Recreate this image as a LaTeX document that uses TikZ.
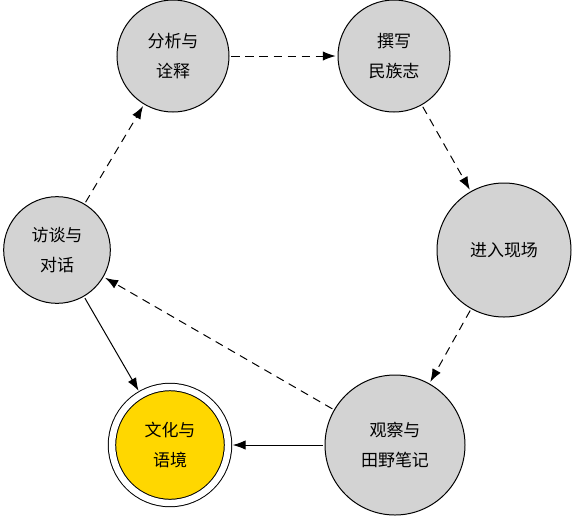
\documentclass[tikz,border=0pt]{standalone}
\usepackage{fontspec}
\setmainfont{Noto Sans CJK SC}
\usepackage{tikz}
\usetikzlibrary{
  shapes.geometric,
  arrows.meta,
  positioning,
  calc
}
\definecolor{StageGray}{HTML}{D3D3D3}
\definecolor{GoalGold}{HTML}{FFD700}
\tikzset{
  % Research stage circle
  stage/.style={
    circle, draw=black, fill=StageGray, line width=0.85pt,
    minimum size=#1, inner sep=0pt, outer sep=2pt,
    align=center, font=\fontsize{14.5}{25}\selectfont
  },
  % Goal circle with double border
  goal/.style={
    circle, draw=black, fill=GoalGold, line width=0.85pt,
    double, double distance=5.5pt,
    minimum size=#1, inner sep=0pt, outer sep=4pt,
    align=center, font=\fontsize{14.5}{25}\selectfont
  },
  % Arrow
  arr/.style={
    -{Latex[length=11pt,width=8pt]},
    line width=0.85pt, color=black
  },
  % Dashed flow arrow
  flow/.style={arr, dash pattern=on 7pt off 5pt}
}
\begin{document}
\begin{tikzpicture}[x=0.03cm,y=-0.03cm]
  \useasboundingbox (0,0) rectangle (581,521);
  % Cycle of stages
  \node[stage=3.36cm] (ana) at (173,56)  {分析与\\诠释};
  \node[stage=3.36cm] (wri) at (394,56)  {撰写\\民族志};
  \node[stage=4.02cm] (ent) at (504,250) {进入现场};
  \node[stage=4.2cm]  (obs) at (395,445) {观察与\\田野笔记};
  \node[stage=3.2cm]  (int) at (57,250)  {访谈与\\对话};
  \node[goal=3.48cm]  (cul) at (170,445) {文化与\\语境};

  \draw[flow] (ana) -- (wri);
  \draw[flow] (wri) -- (ent);
  \draw[flow] (ent) -- (obs);
  \draw[flow] (obs) -- (int);
  \draw[flow] (int) -- (ana);
  \draw[arr]  (int) -- (cul);
  \draw[arr]  (obs) -- (cul);
\end{tikzpicture}
\end{document}
